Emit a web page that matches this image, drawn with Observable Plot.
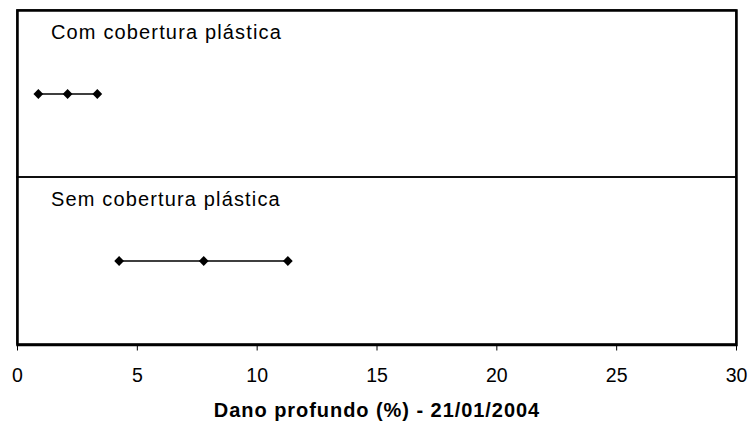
<!DOCTYPE html>
<html>
<head>
<meta charset="utf-8">
<script src="https://cdn.jsdelivr.net/npm/d3@7"></script>
<script src="https://cdn.jsdelivr.net/npm/@observablehq/plot@0.6"></script>
<style>
  body { margin: 0; background: #fff; }
  #chart svg { display: block; }
</style>
</head>
<body>
<div id="chart"></div>
<script>
// Deep damage (%) by treatment: lower bound, mean, upper bound
const groups = ["Com cobertura plástica", "Sem cobertura plástica"];
const lower = [0.87, 4.24];
const middle = [2.09, 7.77];
const upper = [3.33, 11.28];
const xTicks = [0, 5, 10, 15, 20, 25, 30];
const xLabel = "Dano profundo (%) - 21/01/2004";

const points = groups.flatMap((g, i) =>
  [lower[i], middle[i], upper[i]].map(v => ({group: g, value: v}))
);

const chart = Plot.plot({
  width: 750,
  height: 424,
  marginLeft: 17,
  marginRight: 14,
  marginTop: 10,
  marginBottom: 79.5,
  style: {
    fontFamily: "'Liberation Sans', Arial, sans-serif",
    fontSize: "19.5px",
    color: "#000",
    background: "#fff"
  },
  x: {domain: [0, 30], ticks: xTicks, tickSize: 6, tickPadding: 17, label: null},
  y: {domain: groups, padding: 0, axis: null},
  marks: [
    // one outlined band per treatment; the shared edge forms the divider
    Plot.cell(groups, {y: d => d, fill: "none", stroke: "#000", strokeWidth: 1.5}),
    Plot.frame({stroke: "#000", strokeWidth: 2.5}),
    Plot.line(points, {x: "value", y: "group", z: "group", stroke: "#000", strokeWidth: 1.5}),
    Plot.dot(points, {x: "value", y: "group", symbol: "diamond2", r: 4.4, fill: "#000", stroke: "none"}),
    Plot.text(groups, {
      y: d => d, text: d => d,
      frameAnchor: "left", textAnchor: "start", lineAnchor: "bottom",
      dx: 33.5, dy: -55.5, fontSize: 20, fill: "#000"
    }),
    Plot.text([xLabel], {
      text: d => d, frameAnchor: "bottom", lineAnchor: "bottom",
      dy: 72, fontSize: 20, fontWeight: "bold", fill: "#000"
    })
  ]
});

// widen the tracking of the panel labels and the axis title
d3.select(chart).selectAll("text").each(function () {
  const t = this.textContent;
  if (groups.includes(t)) this.style.letterSpacing = "1.15px";
  else if (t === xLabel) this.style.letterSpacing = "0.95px";
});

document.getElementById("chart").appendChild(chart);
</script>
</body>
</html>
